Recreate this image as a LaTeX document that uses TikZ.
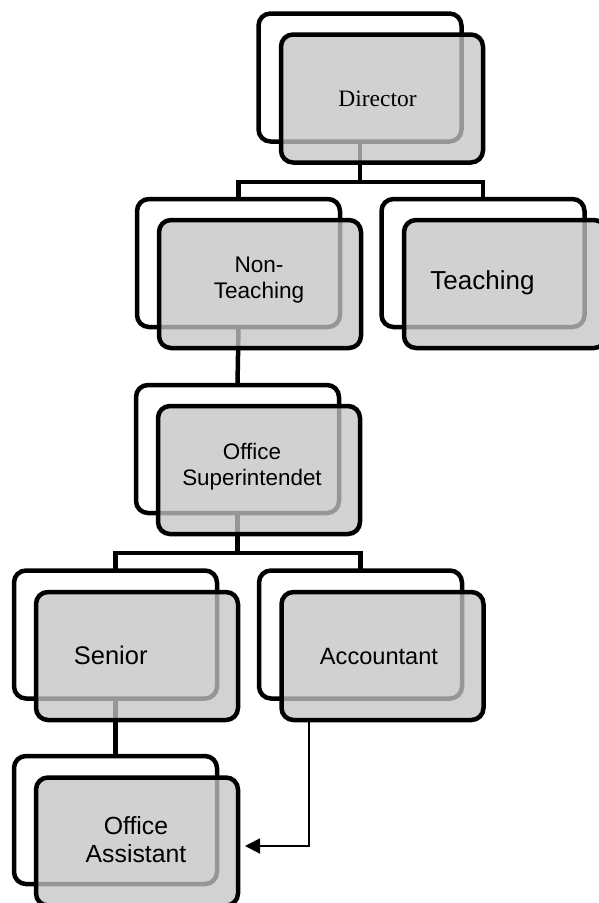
\documentclass[tikz,border=0pt]{standalone}
\usepackage{fontspec}
\setmainfont{Liberation Sans}
\newfontfamily\serifx{Liberation Serif}
\usetikzlibrary{arrows.meta}
\definecolor{boxgray}{RGB}{196,196,196}
\tikzset{
  backbox/.style={draw=black, line width=4.5pt, rounded corners=12pt, fill=white,
    minimum width=203pt, minimum height=128pt, inner sep=0pt, outer sep=0pt},
  frontbox/.style={draw=black, line width=4.5pt, rounded corners=12pt, fill=boxgray,
    fill opacity=0.77, draw opacity=1, text opacity=1,
    minimum width=202pt, minimum height=128pt, inner sep=0pt, outer sep=0pt},
  link/.style={line width=4.5pt, line join=miter},
  thinarrow/.style={line width=2pt, -{Triangle[length=15pt,width=15pt]}},
  lbl/.style={align=center, inner sep=0pt},
}
\begin{document}
\begin{tikzpicture}[x=1pt,y=-1pt]
\useasboundingbox (0,0) rectangle (599,903);
\clip (0,0) rectangle (599,903);
% back boxes
\node[backbox] (bDir) at (360,77.5) {};
\node[backbox] (bNT) at (238.5,263) {};
\node[backbox] (bT) at (483,263) {};
\node[backbox] (bOS) at (237.5,449) {};
\node[backbox] (bSen) at (115.5,634.5) {};
\node[backbox] (bAcc) at (360.5,634.5) {};
\node[backbox] (bOA) at (115.5,820) {};
% junctions
\coordinate (j1) at (360,182);
\coordinate (j2) at (237.5,553);
% connectors
\draw[link] (bDir.south) -- (j1);
\draw[link] (bNT.north) |- (j1) -| (bT.north);
\draw[link] (bNT.south) -- (bOS.north);
\draw[link] (bOS.south) -- (j2);
\draw[link] (bSen.north) |- (j2) -| (bAcc.north);
\draw[link] (bSen.south) -- (bOA.north);
% front boxes
\node[frontbox] (fDir) at (382,98.5) {};
\node[frontbox] (fNT) at (260,284) {};
\node[frontbox] (fT) at (505,284) {};
\node[frontbox] (fOS) at (259,470) {};
\node[frontbox] (fSen) at (137,656) {};
\node[frontbox] (fAcc) at (382.5,656) {};
\node[frontbox] (fOA) at (137,841.5) {};
% texts
\node[lbl, font=\serifx\fontsize{23.5}{26}\selectfont] (tDir) at (377.5,99) {Director};
\node[lbl, font=\fontsize{22.6}{26}\selectfont] (tNT) at (259,280) {Non-\\Teaching};
\node[lbl, font=\fontsize{26}{28}\selectfont] (tT) at (482.5,283) {Teaching};
\node[lbl, font=\fontsize{22.4}{26}\selectfont] (tOS) at (252,467) {Office\\Superintendet};
\node[lbl, font=\fontsize{25.5}{28}\selectfont] (tSen) at (110.7,655) {Senior};
\node[lbl, font=\fontsize{23.6}{27}\selectfont] (tAcc) at (379,656) {Accountant};
\node[lbl, font=\fontsize{24.8}{28}\selectfont] (tOA) at (136,840) {Office\\Assistant};
% arrow
\coordinate (aStart) at (309,720);
\coordinate (aEnd) at (245,846);
\draw[thinarrow] (aStart) |- (aEnd);
\end{tikzpicture}
\end{document}
